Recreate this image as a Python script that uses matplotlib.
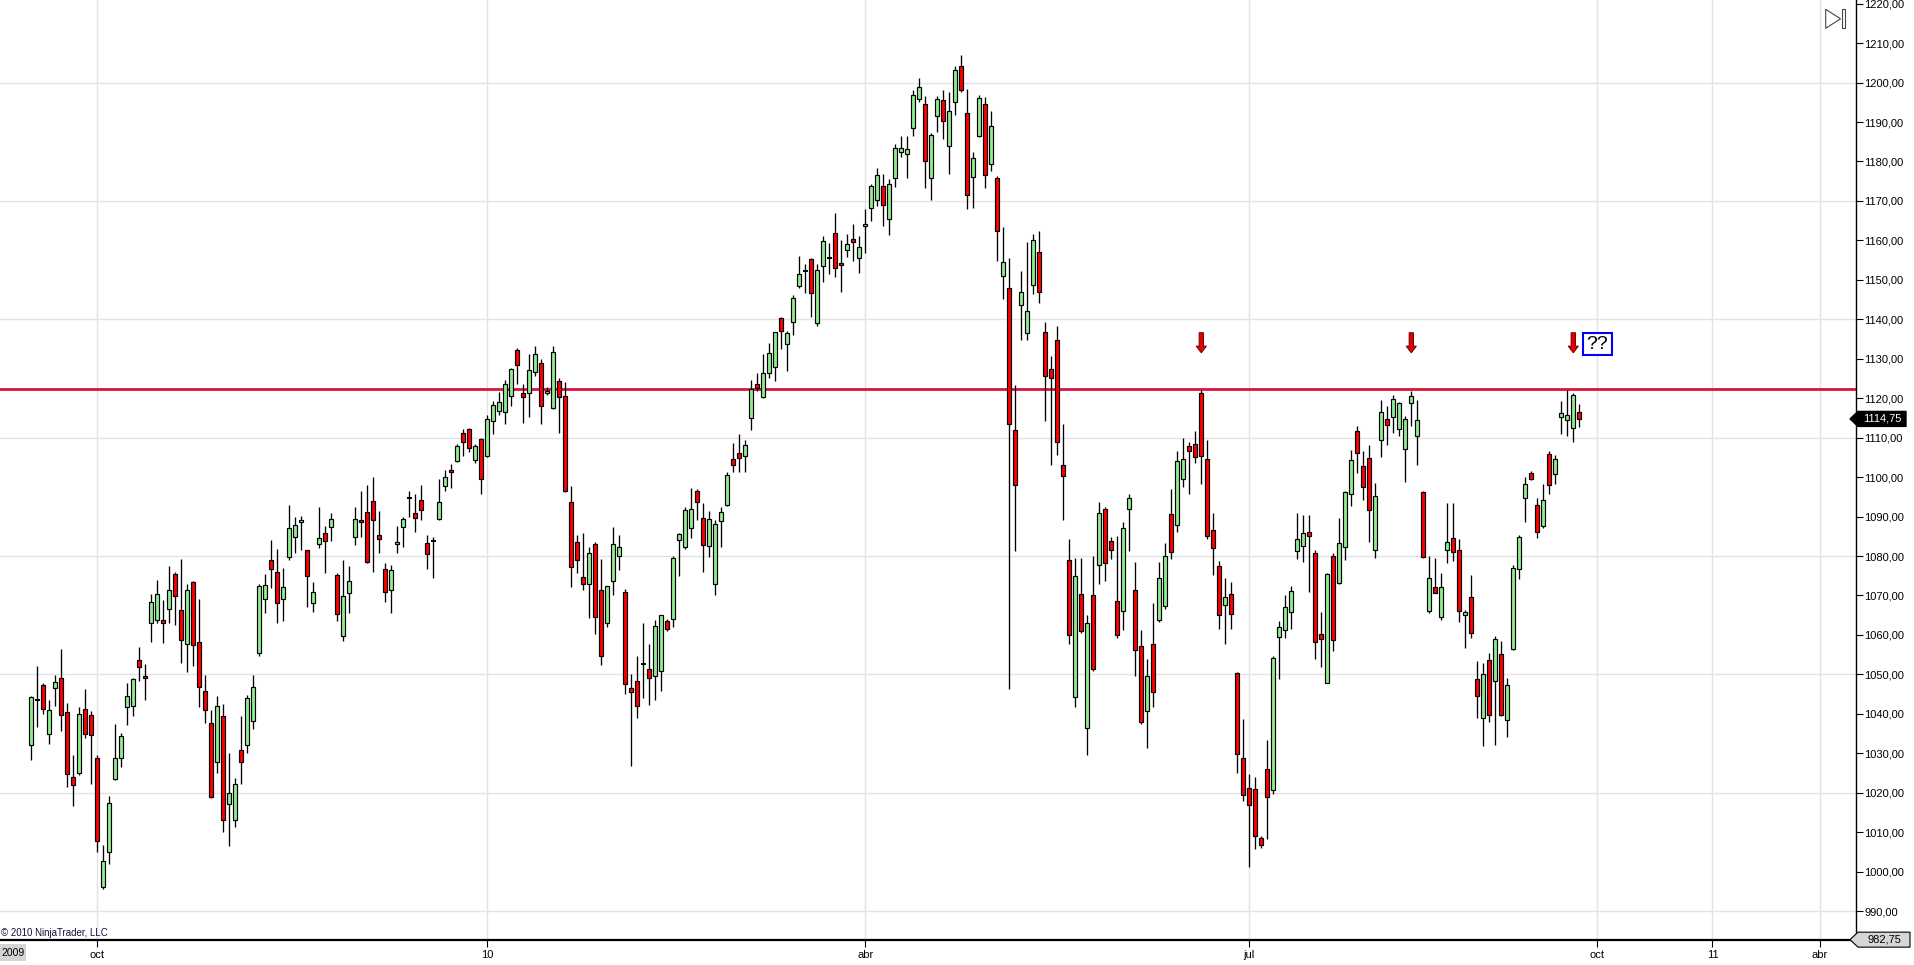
import matplotlib
matplotlib.use("Agg")
import matplotlib.pyplot as plt
from matplotlib.patches import Polygon, Rectangle
import numpy as np

plt.rcParams['font.family'] = ['Liberation Sans', 'DejaVu Sans']

# ---------------- data (daily OHLC) ----------------
opens = [1032.0, 1043.4, 1047.2, 1035.0, 1046.5, 1049.2, 1040.4, 1023.9, 1024.9, 1041.1,
         1039.6, 1028.9, 996.1, 1004.9, 1023.4, 1028.7, 1041.6, 1042.1, 1053.6, 1049.7,
         1062.9, 1063.9, 1063.9, 1066.5, 1075.4, 1066.2, 1057.6, 1073.4, 1058.1, 1045.9,
         1037.6, 1027.8, 1039.4, 1017.2, 1013.2, 1030.7, 1032.2, 1038.3, 1055.5, 1069.2,
         1079.1, 1076.0, 1069.2, 1079.8, 1084.9, 1088.5, 1081.4, 1068.2, 1083.1, 1085.9,
         1087.4, 1075.3, 1059.7, 1070.7, 1084.9, 1089.0, 1091.2, 1094.0, 1085.2, 1076.8,
         1071.5, 1083.1, 1087.4, 1094.6, 1091.0, 1094.3, 1083.4, 1083.8, 1089.5, 1097.8,
         1101.9, 1104.1, 1111.3, 1112.3, 1104.4, 1109.7, 1105.4, 1114.3, 1116.8, 1116.6,
         1120.6, 1132.3, 1121.2, 1121.2, 1126.7, 1129.0, 1121.4, 1117.6, 1124.4, 1120.6,
         1093.8, 1083.6, 1074.8, 1073.0, 1083.1, 1071.5, 1063.1, 1073.7, 1080.1, 1071.0,
         1046.6, 1048.4, 1052.6, 1051.4, 1049.7, 1050.9, 1063.4, 1064.0, 1084.1, 1082.2,
         1087.0, 1096.5, 1089.7, 1082.5, 1073.0, 1088.9, 1092.9, 1104.6, 1106.1, 1105.3,
         1114.9, 1123.6, 1120.2, 1126.4, 1127.9, 1140.3, 1133.7, 1139.3, 1148.5, 1152.2,
         1155.3, 1139.1, 1153.5, 1155.5, 1161.9, 1154.3, 1157.6, 1160.4, 1155.6, 1163.7,
         1168.2, 1170.3, 1173.8, 1165.4, 1175.9, 1182.5, 1182.0, 1188.6, 1195.8, 1194.7,
         1175.9, 1191.6, 1195.5, 1184.0, 1195.2, 1204.1, 1192.4, 1176.1, 1186.5, 1194.7,
         1179.4, 1175.9, 1151.1, 1148.0, 1112.0, 1143.7, 1136.6, 1148.6, 1157.1, 1136.8,
         1127.4, 1134.7, 1103.1, 1079.0, 1044.3, 1070.4, 1036.4, 1070.2, 1077.6, 1091.9,
         1083.9, 1068.7, 1066.1, 1092.0, 1071.4, 1057.2, 1040.7, 1057.7, 1063.8, 1067.2,
         1090.7, 1087.9, 1099.6, 1107.9, 1108.5, 1121.3, 1104.7, 1086.6, 1077.5, 1067.5,
         1070.4, 1050.4, 1028.7, 1021.1, 1020.9, 1008.5, 1026.0, 1020.7, 1059.4, 1061.3,
         1065.8, 1081.3, 1082.5, 1086.1, 1080.7, 1060.3, 1047.9, 1080.0, 1073.1, 1082.3,
         1095.8, 1111.8, 1102.9, 1104.9, 1081.5, 1109.5, 1114.8, 1115.3, 1112.3, 1107.2,
         1118.9, 1110.3, 1096.3, 1066.1, 1072.2, 1064.6, 1081.4, 1084.6, 1081.6, 1065.1,
         1069.7, 1048.7, 1039.0, 1053.7, 1048.2, 1055.2, 1038.5, 1056.4, 1076.8, 1094.8,
         1101.1, 1093.0, 1087.7, 1105.9, 1100.9, 1115.3, 1114.6, 1112.5, 1116.6]
highs = [1044.5, 1052.1, 1047.7, 1043.4, 1049.8, 1056.4, 1042.7, 1029.6, 1041.7, 1046.3,
         1040.7, 1029.5, 1006.7, 1019.1, 1037.3, 1035.2, 1047.7, 1049.2, 1056.9, 1052.5,
         1070.3, 1073.8, 1068.8, 1077.5, 1075.9, 1079.2, 1072.8, 1073.6, 1069.0, 1049.8,
         1040.9, 1044.5, 1042.6, 1030.1, 1023.8, 1039.4, 1044.7, 1049.9, 1072.9, 1075.4,
         1084.0, 1081.9, 1076.9, 1093.0, 1089.8, 1090.2, 1081.6, 1073.5, 1092.3, 1087.5,
         1091.0, 1075.8, 1079.1, 1077.4, 1092.5, 1096.4, 1097.9, 1099.9, 1091.3, 1078.3,
         1077.8, 1087.5, 1090.0, 1096.4, 1095.6, 1097.9, 1085.4, 1084.9, 1099.4, 1101.7,
         1103.2, 1108.5, 1112.3, 1112.5, 1108.5, 1110.0, 1115.8, 1119.2, 1121.5, 1124.7,
         1127.7, 1132.8, 1123.7, 1131.3, 1133.2, 1130.0, 1122.9, 1133.2, 1125.2, 1124.2,
         1097.8, 1085.4, 1085.9, 1082.4, 1083.6, 1079.3, 1072.5, 1087.4, 1085.4, 1071.7,
         1050.0, 1054.6, 1063.1, 1057.6, 1063.9, 1065.1, 1064.1, 1080.0, 1085.8, 1092.5,
         1097.2, 1097.0, 1093.4, 1091.5, 1089.0, 1092.5, 1101.4, 1108.7, 1111.0, 1109.5,
         1124.6, 1126.4, 1131.2, 1134.0, 1136.8, 1140.6, 1137.0, 1146.2, 1156.1, 1154.0,
         1155.5, 1154.0, 1161.1, 1159.4, 1167.0, 1160.2, 1161.5, 1164.2, 1161.0, 1168.0,
         1174.3, 1178.4, 1176.8, 1175.6, 1184.5, 1186.4, 1186.4, 1198.0, 1201.1, 1196.7,
         1187.2, 1196.5, 1198.0, 1197.5, 1204.3, 1207.1, 1198.4, 1182.5, 1196.9, 1196.3,
         1192.8, 1176.2, 1163.5, 1155.6, 1123.3, 1152.3, 1159.5, 1161.7, 1162.4, 1139.2,
         1130.8, 1138.2, 1113.4, 1084.4, 1079.4, 1079.4, 1065.1, 1080.1, 1093.6, 1092.3,
         1084.9, 1085.0, 1088.7, 1095.8, 1078.5, 1061.3, 1053.8, 1068.1, 1078.6, 1083.2,
         1096.9, 1106.5, 1109.8, 1108.8, 1111.8, 1122.0, 1109.5, 1090.8, 1078.8, 1074.5,
         1073.5, 1050.7, 1038.8, 1024.8, 1023.9, 1009.1, 1033.4, 1054.7, 1063.4, 1070.0,
         1072.3, 1091.0, 1090.5, 1090.5, 1081.6, 1065.8, 1075.8, 1080.7, 1089.6, 1096.6,
         1106.8, 1112.9, 1106.5, 1108.1, 1098.6, 1119.5, 1117.9, 1120.9, 1119.1, 1115.6,
         1121.8, 1119.6, 1096.6, 1079.9, 1079.5, 1075.8, 1093.5, 1093.5, 1084.4, 1066.4,
         1075.3, 1053.3, 1053.0, 1055.3, 1059.6, 1058.5, 1049.2, 1077.6, 1085.4, 1099.9,
         1101.6, 1094.6, 1098.2, 1106.5, 1105.7, 1119.2, 1122.0, 1121.4, 1118.6]
lows = [1028.2, 1036.7, 1039.9, 1032.4, 1042.1, 1035.6, 1021.5, 1016.7, 1024.4, 1033.8,
        1022.1, 1005.0, 995.5, 1001.8, 1023.1, 1026.5, 1037.2, 1039.5, 1048.3, 1043.6,
        1058.3, 1063.1, 1058.0, 1063.1, 1062.6, 1053.0, 1050.7, 1052.0, 1041.8, 1037.6,
        1018.6, 1025.1, 1010.1, 1006.5, 1011.3, 1022.2, 1030.1, 1036.1, 1054.7, 1065.6,
        1071.9, 1063.1, 1063.4, 1079.1, 1080.8, 1081.5, 1067.1, 1065.8, 1082.0, 1075.7,
        1083.8, 1063.5, 1058.5, 1065.6, 1082.8, 1084.8, 1078.2, 1075.9, 1080.8, 1068.3,
        1065.6, 1080.8, 1082.3, 1089.9, 1086.1, 1089.0, 1076.7, 1074.4, 1089.2, 1096.4,
        1097.2, 1103.8, 1105.4, 1106.4, 1103.6, 1095.7, 1105.1, 1111.0, 1115.8, 1113.5,
        1118.0, 1123.7, 1113.7, 1115.2, 1125.7, 1113.5, 1120.9, 1117.3, 1111.3, 1096.3,
        1072.2, 1075.8, 1071.4, 1064.4, 1060.3, 1052.4, 1062.1, 1070.2, 1076.5, 1045.1,
        1026.7, 1039.0, 1044.1, 1042.3, 1043.6, 1045.9, 1061.1, 1062.0, 1075.0, 1081.8,
        1084.5, 1089.1, 1076.0, 1079.7, 1070.0, 1082.2, 1092.6, 1101.2, 1101.2, 1101.2,
        1111.9, 1121.8, 1120.0, 1125.1, 1124.4, 1132.4, 1126.9, 1136.0, 1148.0, 1146.7,
        1140.6, 1138.3, 1149.5, 1151.4, 1150.7, 1146.9, 1155.8, 1154.8, 1151.7, 1156.8,
        1164.8, 1168.7, 1163.6, 1161.4, 1173.6, 1181.1, 1175.7, 1186.4, 1195.1, 1173.3,
        1170.3, 1187.4, 1185.6, 1176.9, 1191.8, 1197.5, 1168.0, 1168.3, 1186.3, 1173.3,
        1177.6, 1154.8, 1145.2, 1046.3, 1081.3, 1134.8, 1134.8, 1146.5, 1144.2, 1114.3,
        1103.1, 1105.5, 1089.2, 1057.6, 1041.7, 1060.5, 1029.5, 1050.9, 1072.9, 1073.7,
        1079.2, 1059.1, 1061.3, 1081.3, 1049.5, 1037.3, 1031.4, 1041.6, 1063.2, 1066.5,
        1079.3, 1086.0, 1097.4, 1095.7, 1103.7, 1098.2, 1084.3, 1075.1, 1061.4, 1057.6,
        1061.4, 1024.9, 1017.9, 1001.1, 1005.8, 1006.0, 1008.3, 1019.7, 1048.8, 1059.3,
        1061.5, 1079.2, 1078.4, 1071.0, 1053.9, 1051.8, 1047.8, 1055.9, 1072.9, 1079.1,
        1092.6, 1101.0, 1094.1, 1083.6, 1079.5, 1105.1, 1108.1, 1111.2, 1110.4, 1098.8,
        1113.0, 1103.1, 1079.5, 1065.6, 1070.5, 1063.8, 1078.3, 1078.8, 1063.3, 1056.7,
        1059.3, 1039.0, 1031.9, 1038.0, 1032.2, 1039.5, 1034.2, 1056.2, 1074.2, 1088.7,
        1099.2, 1084.6, 1087.1, 1095.8, 1098.3, 1110.8, 1110.3, 1109.0, 1112.8]
closes = [1044.3, 1043.4, 1041.3, 1040.9, 1048.0, 1039.6, 1024.7, 1021.9, 1039.9, 1035.0,
          1034.6, 1007.8, 1002.7, 1017.5, 1028.9, 1034.3, 1044.4, 1048.7, 1051.9, 1049.0,
          1068.3, 1070.3, 1062.9, 1071.3, 1069.8, 1058.6, 1071.5, 1057.4, 1046.8, 1040.9,
          1019.0, 1042.1, 1013.0, 1020.0, 1022.3, 1027.9, 1044.1, 1046.9, 1072.5, 1072.7,
          1076.8, 1068.2, 1072.2, 1087.2, 1087.9, 1089.2, 1075.0, 1071.0, 1084.6, 1083.9,
          1089.5, 1065.4, 1069.9, 1073.7, 1089.5, 1088.5, 1078.5, 1089.0, 1084.4, 1071.0,
          1076.5, 1083.6, 1089.5, 1094.6, 1089.7, 1091.7, 1080.6, 1083.8, 1093.8, 1099.9,
          1101.4, 1108.0, 1109.0, 1107.5, 1108.0, 1099.4, 1114.8, 1118.4, 1119.1, 1123.7,
          1127.5, 1128.5, 1120.4, 1127.2, 1131.3, 1118.1, 1121.9, 1131.8, 1120.4, 1096.5,
          1077.3, 1079.1, 1073.0, 1080.8, 1064.6, 1054.7, 1072.5, 1083.1, 1082.4, 1047.6,
          1045.4, 1042.1, 1052.6, 1049.2, 1062.3, 1065.1, 1061.6, 1079.5, 1085.6, 1091.7,
          1091.9, 1093.6, 1082.8, 1089.4, 1088.1, 1091.2, 1100.5, 1103.1, 1104.9, 1108.1,
          1122.3, 1122.6, 1126.4, 1131.5, 1136.8, 1137.0, 1136.5, 1145.4, 1151.5, 1152.2,
          1146.7, 1152.5, 1159.9, 1155.5, 1153.0, 1153.8, 1159.1, 1159.6, 1158.3, 1164.2,
          1173.8, 1176.6, 1169.0, 1174.3, 1183.5, 1183.4, 1183.2, 1196.9, 1198.8, 1180.2,
          1186.6, 1195.9, 1190.2, 1192.9, 1203.3, 1198.1, 1171.6, 1180.8, 1196.2, 1176.5,
          1189.1, 1162.3, 1154.4, 1113.4, 1098.1, 1146.8, 1142.2, 1160.2, 1146.8, 1125.7,
          1125.2, 1108.8, 1100.4, 1060.0, 1075.0, 1061.0, 1063.0, 1051.4, 1091.0, 1078.1,
          1081.4, 1059.9, 1087.2, 1094.7, 1056.2, 1037.8, 1049.6, 1045.5, 1074.5, 1080.1,
          1081.0, 1104.1, 1104.7, 1106.7, 1105.0, 1105.4, 1085.1, 1082.1, 1065.1, 1069.7,
          1065.3, 1029.8, 1019.4, 1016.9, 1009.0, 1006.7, 1018.9, 1054.2, 1062.0, 1067.1,
          1071.1, 1084.4, 1085.8, 1085.1, 1058.2, 1059.0, 1075.5, 1058.8, 1083.4, 1096.1,
          1104.4, 1106.2, 1097.6, 1091.7, 1095.3, 1116.6, 1113.3, 1119.9, 1118.9, 1114.8,
          1120.6, 1114.6, 1079.7, 1074.3, 1070.7, 1072.2, 1083.6, 1081.1, 1066.1, 1065.9,
          1060.6, 1044.6, 1050.2, 1039.8, 1059.0, 1039.8, 1047.4, 1077.0, 1084.9, 1098.3,
          1099.6, 1086.2, 1094.3, 1098.1, 1104.7, 1116.3, 1115.8, 1120.9, 1114.75]

resistance_level = 1122.4
last_price = 1114.75
axis_min_price = 982.75
signal_bars = [195, 230, 257]
signal_note = "??"
month_labels = ["oct", "10", "abr", "jul", "oct", "11", "abr"]
year_label = "2009"
copyright_text = "\u00a9 2010 NinjaTrader, LLC"

# ---------------- layout ----------------
W, H = 1915, 965
AX_RIGHT_PX, AX_BOTTOM_PX = 1856, 940
BAR_PX, FIRST_BAR_PX = 6.0, 31.3
PX_PER_POINT = 3.945
TOP_PRICE = 1220 + 3.7 / PX_PER_POINT
month_tick_idx = [11, 76, 139, 203, 261, 280.2, 298.1]

o = np.array(opens); h = np.array(highs); l = np.array(lows); c = np.array(closes)
n = len(o)
x = np.arange(n)

fig = plt.figure(figsize=(W / 100, H / 100), dpi=100)
fig.patch.set_facecolor('white')
ax = fig.add_axes([0, (H - AX_BOTTOM_PX) / H, AX_RIGHT_PX / W, AX_BOTTOM_PX / H])
ax.set_facecolor('white')
ax.set_xlim(-FIRST_BAR_PX / BAR_PX, (AX_RIGHT_PX - FIRST_BAR_PX) / BAR_PX)
ax.set_ylim(TOP_PRICE - AX_BOTTOM_PX / PX_PER_POINT, TOP_PRICE)

grid_c = '#e3e3e3'
for gy in np.arange(990, 1201, 30):
    ax.axhline(gy, color=grid_c, lw=1.0, zorder=0)
for gx in month_tick_idx:
    ax.axvline(gx, color=grid_c, lw=1.0, zorder=0)

# resistance line
ax.axhline(resistance_level, color='#dc143c', lw=2.0, zorder=1)

# candles
up = c >= o
ax.vlines(x, l, h, color='black', lw=0.95, zorder=2)
body_lo = np.minimum(o, c)
body_h = np.abs(c - o)
doji = body_h < 0.35
colors = np.where(up, '#90ee90', '#ff0000')
ax.bar(x[~doji], body_h[~doji], bottom=body_lo[~doji], width=0.72,
       color=colors[~doji], edgecolor='black', linewidth=0.85, zorder=3)
ax.hlines(c[doji], x[doji] - 0.4, x[doji] + 0.4, color='black', lw=1.4, zorder=3)

# signal arrows
for sb in signal_bars:
    top, neck, tip = 1136.6, 1133.2, 1131.5
    hw_s, hw_h = 0.36, 0.85
    pts = [(sb - hw_s, top), (sb + hw_s, top), (sb + hw_s, neck), (sb + hw_h, neck),
           (sb, tip), (sb - hw_h, neck), (sb - hw_s, neck)]
    ax.add_patch(Polygon(pts, closed=True, facecolor='#e00000', edgecolor='#700000',
                         lw=0.7, zorder=4))

# axes styling
for s in ['top', 'left']:
    ax.spines[s].set_visible(False)
ax.spines['right'].set_color('black'); ax.spines['right'].set_linewidth(1.0)
ax.spines['bottom'].set_color('black'); ax.spines['bottom'].set_linewidth(1.6)
ax.yaxis.tick_right()
yt = np.arange(990, 1221, 10)
ax.set_yticks(yt)
ax.set_yticklabels([f"{v:.2f}".replace('.', ',') for v in yt])
ax.tick_params(axis='y', length=5, width=0.8, pad=1, labelsize=8, colors='black')
ax.set_xticks(month_tick_idx)
ax.set_xticklabels(month_labels)
ax.tick_params(axis='x', length=5, width=0.8, pad=2, labelsize=8, colors='black')

# overlay for decorations in pixel coordinates
ov = fig.add_axes([0, 0, 1, 1], zorder=10)
ov.set_xlim(0, W); ov.set_ylim(H, 0); ov.axis('off'); ov.patch.set_alpha(0)

def price_to_px(p):
    return H - ax.transData.transform((0, p))[1]

yp = price_to_px(last_price)
ov.add_patch(Polygon([(1850, yp), (1858, yp - 7.5), (1906, yp - 7.5), (1906, yp + 7.5),
                      (1858, yp + 7.5)], closed=True, facecolor='black', edgecolor='black'))
ov.text(1882, yp, f"{last_price:.2f}".replace('.', ','), color='white', fontsize=8,
        ha='center', va='center')

ym = price_to_px(axis_min_price)
ov.add_patch(Polygon([(1850, ym), (1858, ym - 7.5), (1910, ym - 7.5), (1910, ym + 7.5),
                      (1858, ym + 7.5)], closed=True, facecolor='#d6d6d6', edgecolor='black', lw=0.8))
ov.text(1884, ym, f"{axis_min_price:.2f}".replace('.', ','), color='black', fontsize=8,
        ha='center', va='center')

# play-to-end icon
ov.add_patch(Polygon([(1825.7, 9.3), (1825.7, 28.3), (1840.5, 18.8)], closed=True,
                     facecolor='none', edgecolor='#444444', lw=0.8))
ov.add_patch(Rectangle((1841.7, 9.0), 3.6, 19.3, facecolor='none', edgecolor='#444444', lw=0.8))

# "??" note box
ov.add_patch(Rectangle((1583, 333), 29, 22, facecolor='white', edgecolor='#0000ff', lw=1.5))
ov.text(1597.5, 344.5, signal_note, fontsize=14, ha='center', va='center', color='black')

# year box and copyright
ov.add_patch(Rectangle((0, 944), 26, 17, facecolor='#d4d4d4', edgecolor='none'))
ov.text(13, 952.5, year_label, fontsize=7.5, ha='center', va='center', color='black')
ov.text(1, 933, copyright_text, fontsize=7, ha='left', va='center', color='#101040')

fig.savefig('out.png', dpi=100, facecolor='white')
